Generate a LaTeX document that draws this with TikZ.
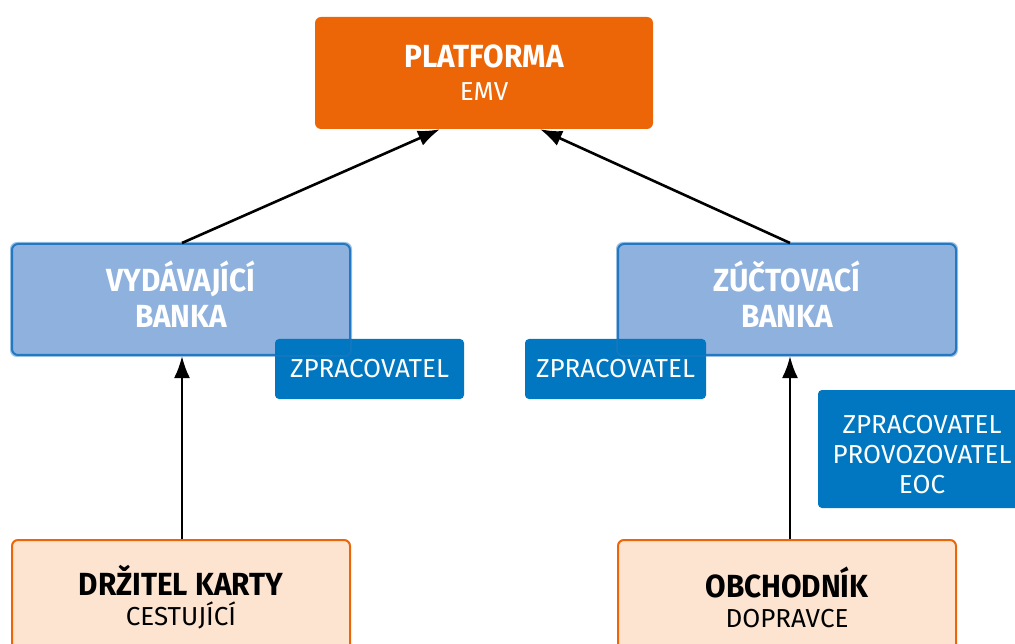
\documentclass[tikz,border=0pt]{standalone}
\usepackage{fontspec}
\setmainfont{Fira Sans}[BoldFeatures={FakeStretch=0.93}]
\usetikzlibrary{arrows.meta}
\definecolor{orangeM}{RGB}{236,102,8}
\definecolor{blueL}{RGB}{142,177,222}
\definecolor{blueB}{RGB}{36,120,194}
\definecolor{blueD}{RGB}{0,119,192}
\definecolor{peach}{RGB}{252,228,209}
\tikzset{
  box/.style={rounded corners=6pt, minimum width=338pt, inner sep=0pt, align=center},
  topbox/.style={box, fill=orangeM, draw=none, text=white, minimum height=112pt, font=\fontsize{26}{33}\selectfont},
  bankbox/.style={box, fill=blueL, draw=blueB, line width=2pt, text=white, minimum height=111pt, font=\fontsize{32}{36}\selectfont\bfseries},
  procbox/.style={rounded corners=4pt, fill=blueD, text=white, inner sep=0pt, align=center, font=\fontsize{26}{30}\selectfont},
  actbox/.style={box, fill=peach, draw=orangeM, line width=2pt, text=black, minimum height=114pt, font=\fontsize{26}{30}\selectfont},
  arr/.style={line width=2.6pt, -{Latex[length=22pt,width=16pt]}},
  overlay border/.style={draw=blueB, draw opacity=0.45, line width=2pt, rounded corners=6pt}
}
\newcommand{\hdtext}[1]{{\fontsize{32}{33}\selectfont\bfseries #1}}
\newcommand{\lowstrut}{\rule[-11pt]{0pt}{11pt}}
\newcommand{\highstrut}{\rule{0pt}{29pt}}
\begin{document}
\begin{tikzpicture}[x=1pt,y=-1pt]
\useasboundingbox (0,0) rectangle (1015,644);
\node[topbox] (plat) at (484,73) {\hdtext{PLATFORMA}\\EMV};
\node[bankbox] (vyd) at (181,299.5) {VYDÁVAJÍCÍ\\BANKA\lowstrut};
\node[bankbox] (zuc) at (787,299.5) {ZÚČTOVACÍ\\BANKA\lowstrut};
\node[procbox, minimum width=189pt, minimum height=60pt] (zp1) at (369.5,369) {ZPRACOVATEL};
\node[procbox, minimum width=181pt, minimum height=60pt] (zp2) at (615.5,369) {ZPRACOVATEL};
\node[procbox, minimum width=208pt, minimum height=118pt] (zp3) at (922,449) {\highstrut ZPRACOVATEL\\PROVOZOVATEL\\EOC};
\draw[overlay border] (vyd.south west) rectangle (vyd.north east);
\draw[overlay border] (zuc.south west) rectangle (zuc.north east);
\node[actbox] (drz) at (181,597) {\hdtext{DRŽITEL KARTY}\\CESTUJÍCÍ};
\node[actbox] (obc) at (787,597) {\hdtext{OBCHODNÍK}\\DOPRAVCE};
\draw[arr] ([xshift=1pt]vyd.north) -- ([xshift=-44pt]plat.south);
\draw[arr] ([xshift=3pt]zuc.north) -- ([xshift=56pt]plat.south);
\draw[arr] ([xshift=1pt]drz.north) -- ([xshift=1pt]vyd.south);
\draw[arr] ([xshift=3pt]obc.north) -- ([xshift=3pt]zuc.south);
\end{tikzpicture}
\end{document}
